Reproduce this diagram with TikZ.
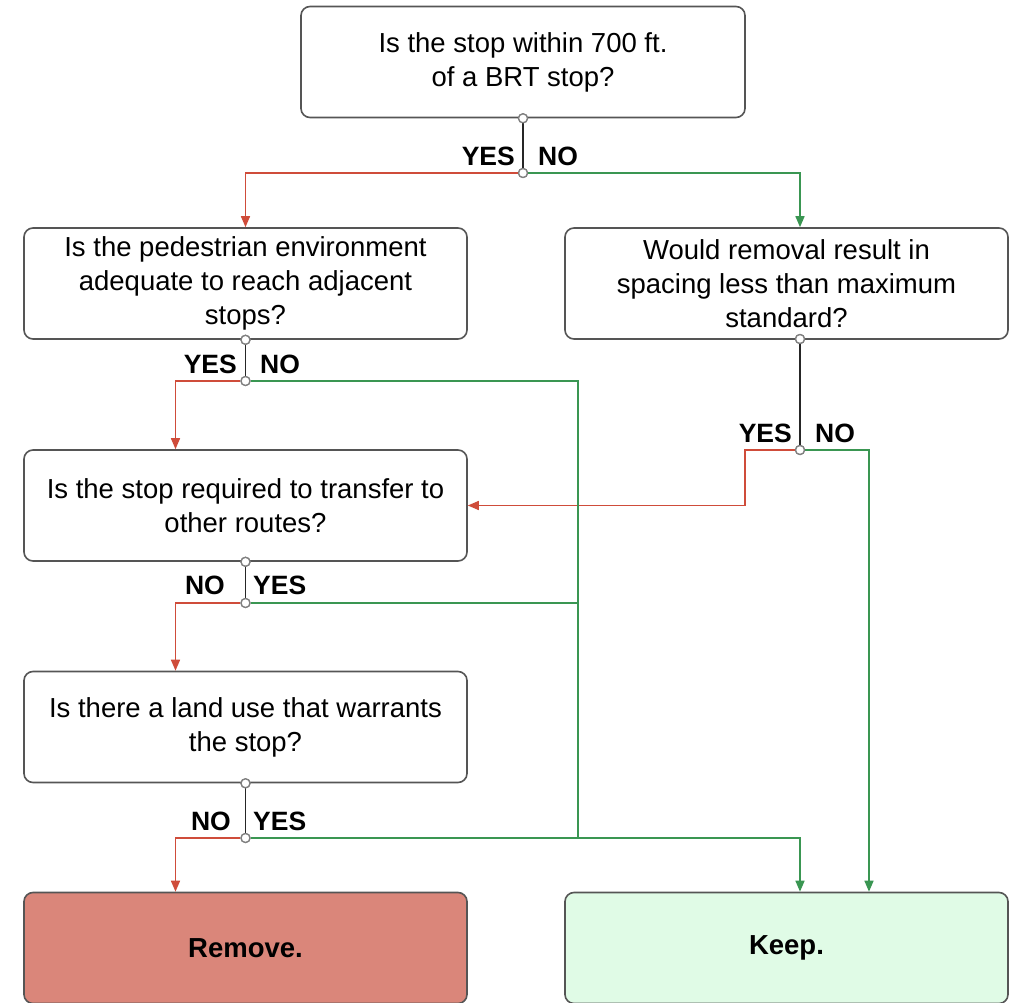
\documentclass[tikz,border=0pt]{standalone}
\usepackage{fontspec}
\setmainfont{Liberation Sans}
\usetikzlibrary{arrows.meta}
\definecolor{redline}{RGB}{207,76,58}
\definecolor{greenline}{RGB}{58,150,82}
\definecolor{removefill}{RGB}{218,134,122}
\definecolor{keepfill}{RGB}{224,251,230}
\definecolor{boxdraw}{RGB}{85,85,85}
\begin{document}
\begin{tikzpicture}[x=1pt,y=-1pt,
  qbox/.style={draw=boxdraw, line width=1.6pt, rounded corners=9pt, minimum width=443pt, minimum height=111pt, align=center, font=\fontsize{27.5}{34}\selectfont, inner sep=0pt, fill=white},
  jct/.style={circle, draw=gray, fill=white, line width=1.3pt, minimum size=9pt, inner sep=0pt},
  lbl/.style={font=\bfseries\fontsize{26.5}{26.5}\selectfont, inner sep=0pt},
  stem/.style={draw=black!85, line width=1.5pt},
  yesline/.style={draw=redline, line width=1.5pt},
  noline/.style={draw=greenline, line width=1.5pt},
  arr/.style={-{Triangle[length=11pt,width=9pt]}}
]
\useasboundingbox (0,0) rectangle (1021,1003);

% boxes
\node[qbox, minimum width=444pt] (q0) at (523,62) {Is the stop within 700 ft.\\ of a BRT stop?};
\node[qbox] (q1) at (245.5,283.5) {Is the pedestrian environment\\ adequate to reach adjacent\\ stops?};
\node[qbox] (q2) at (786.5,283.5) {Would removal result in\\ spacing less than maximum\\ standard?};
\node[qbox] (q3) at (245.5,505.5) {Is the stop required to transfer to\\ other routes?};
\node[qbox] (q4) at (245.5,727) {Is there a land use that warrants\\ the stop?};
\node[qbox, fill=removefill, font=\bfseries\fontsize{27.5}{34}\selectfont] (rm) at (245.5,948) {Remove.};
\node[qbox, fill=keepfill, font=\bfseries\fontsize{27.5}{34}\selectfont] (kp) at (786.5,948) {Keep.};

% junction points
\node[jct] (j0a) at (q0.south) {};
\node[jct] (j0b) at (523,173) {};
\node[jct] (j1a) at (q1.south) {};
\node[jct] (j1b) at (245.5,381) {};
\node[jct] (j2a) at (800,339) {};
\node[jct] (j2b) at (800,450) {};
\node[jct] (j3a) at (q3.south) {};
\node[jct] (j3b) at (245.5,603) {};
\node[jct] (j4a) at (q4.south) {};
\node[jct] (j4b) at (245.5,838) {};

\coordinate (g1) at (578,838);
\coordinate (g2) at (578,603);
\coordinate (r2) at (745,505.5);

% stems
\draw[stem] (j0a) -- (j0b);
\draw[stem] (j1a) -- (j1b);
\draw[stem] (j2a) -- (j2b);
\draw[stem] (j3a) -- (j3b);
\draw[stem] (j4a) -- (j4b);

% red (remove-ward) connectors
\draw[yesline, arr] (j0b.west) -| (q1.north);
\draw[yesline, arr] (j1b.west) -| ([xshift=-70pt]q3.north);
\draw[yesline, arr] (j2b.west) -| (r2) -- (q3.east);
\draw[yesline, arr] (j3b.west) -| ([xshift=-70pt]q4.north);
\draw[yesline, arr] (j4b.west) -| ([xshift=-70pt]rm.north);

% green (keep-ward) connectors
\draw[noline, arr] (j0b.east) -| ([xshift=13.5pt]q2.north);
\draw[noline] (j1b.east) -| (g1);
\draw[noline] (j3b.east) -- (g2);
\draw[noline, arr] (j2b.east) -| ([xshift=82.5pt]kp.north);
\draw[noline, arr] (j4b.east) -| ([xshift=13.5pt]kp.north);

% redraw junctions on top
\foreach \j in {j0a,j0b,j1a,j1b,j2a,j2b,j3a,j3b,j4a,j4b}{\node[jct] at (\j) {};}

% labels
\node[lbl, anchor=east] (l0y) at (515,156) {YES};
\node[lbl, anchor=west] (l0n) at (538,156) {NO};
\node[lbl, anchor=east] (l1y) at (237,364) {YES};
\node[lbl, anchor=west] (l1n) at (260,364) {NO};
\node[lbl, anchor=east] (l2y) at (792,433) {YES};
\node[lbl, anchor=west] (l2n) at (815,433) {NO};
\node[lbl, anchor=east] (l3n) at (225,585) {NO};
\node[lbl, anchor=west] (l3y) at (253,585) {YES};
\node[lbl, anchor=east] (l4n) at (231,821) {NO};
\node[lbl, anchor=west] (l4y) at (253,821) {YES};
\end{tikzpicture}
\end{document}
